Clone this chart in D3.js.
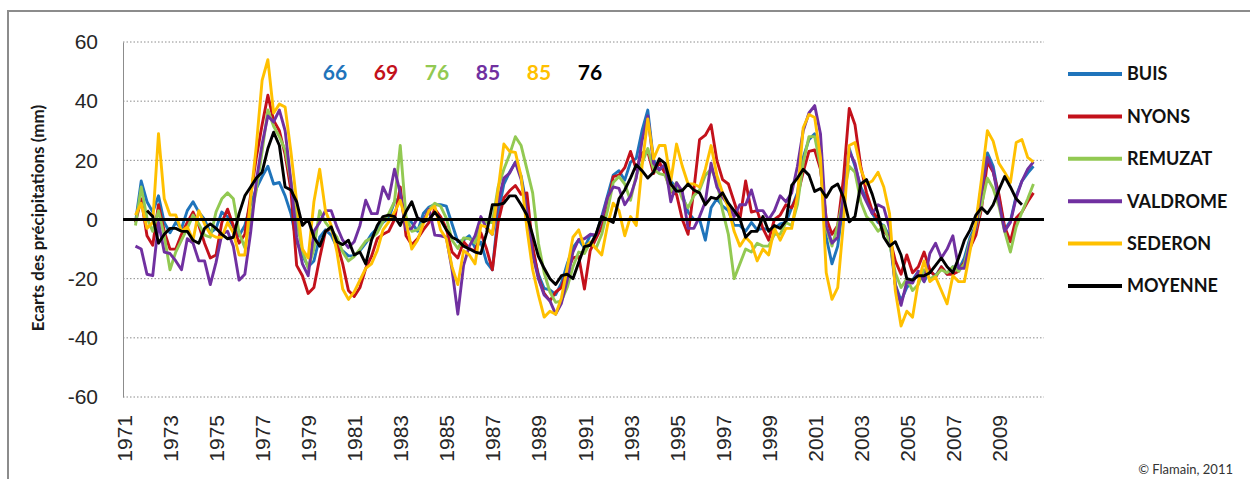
<!DOCTYPE html>
<html>
<head>
<meta charset="utf-8">
<script src="https://cdn.jsdelivr.net/npm/d3@7"></script>
<style>
  body { margin: 0; background: #fff; }
  svg { display: block; font-family: Lato, "Open Sans", sans-serif; }
  .grid line { stroke: #8c8c8c; stroke-width: 1; stroke-dasharray: 1.5,2; }
  .y-axis path { stroke: #8c8c8c; }
  .y-axis text, .x-axis text { font-size: 21px; fill: #262626; }
  .serie { fill: none; stroke-width: 2.9; stroke-linejoin: round; }
</style>
</head>
<body>
<div id="chart"></div>
<script>
// quarterly values, colored series from 1971.5 to 2010.5, average from 1972.0 to 2010.0
var startStations = 1971.5;
var startMoyenne = 1972.0;
var step = 0.25;

var stations = ["BUIS", "NYONS", "REMUZAT", "VALDROME", "SEDERON", "MOYENNE"];
var xTicks = d3.range(1971, 2010, 2);
var yTicks = [-60, -40, -20, 0, 20, 40, 60];
var topLabels = ["66", "69", "76", "85", "85", "76"];

var buis = [
  -1, 13, 6, 2.5, 8, -1, -4.5, -1, -3, 3, 6, 2.5, 0, -4.5, -3, 2.5, 1, -2.5, -5.5, -2, 5, 10.5, 14.5, 18, 12, 12.5, 8, 2, -7.5, -12, -16,
  -14, -6, -3.5, -5.3, -9.3, -10.6, -12.3, -12.3, -10.5, -8, -5, -3, -1, 0.5, 6, 7.5, 0, -1, -4, 2, 4.2, 5, 5, 4.5, -1.5, -7.5, -7, -5.5, -9.6, -7.6, -14.5, -17, 2,
  12, 16, 19.4, 14.7, 4, -10.5, -18.5, -23.3, -23.8, -25.4, -21.5, -15, -9.5, -6.9, -9.6, -5.3, -5.3, 1, 8, 15, 16.5, 13.3, 19.4, 20.7, 30, 37, 20, 17, 17.5, 13, 10.5, 8.5, 2.5,
  0, 0, -7, 4, 7, 4.5, 3, -2, -2, -4, -1, -3.5, -3, -3.5, -3, -1.5, -1, 4, 9, 21, 27, 29, 20, -6, -15, -9, 6, 24, 18, 11, 7, 2, -1, -2,
  -6, -22, -27.5, -23, -20.5, -17.5, -21, -17.5, -19, -16, -18.5, -16, -17, -13, -6, -2, 12, 22.5, 18, 7.5, -3.5, -0.5, 8, 13, 15.7, 18
];

var nyons = [
  -1, 7, -5.5, -8.7, 5, -4, -10, -10, -5, -1, 2.5, -2, -8, -13, -12, -1, 3.5, -2, -8, -5, 8, 21, 32, 42, 33.5, 30, 22, 10, -15.5, -19, -25,
  -23, -13, -4, -3, -8, -15, -24, -26, -23, -16.5, -12.5, -6.5, -5, -4, 0, 11, -5.5, -8.5, -6.5, -3.5, -1, 3.5, 1, -3, -11, -13, -7.5, -9.8, -10.7, -4.5, -10, -17, -1,
  7.3, 9.7, 11.5, 8.5, 9, -9, -19.5, -25, -27.5, -24.5, -23, -17.5, -13, -12.5, -23.5, -10.5, -6.5, -2.5, 4, 14.5, 15, 17.5, 23, 17, 22.5, 23, 15.5, 19.5, 15.5, 9.5, 8.5, 0, -5,
  10, 27, 28.5, 32, 20, 13.5, 12, 6, 0, 13, 2.5, 3, -3, -7, 0, 1.5, 5, 4, 8, 16, 23, 23.5, 17, 0.5, -5, -2, 14, 37.5, 32, 18, 9, 3, 0, -4,
  -6, -14, -18.5, -12, -18, -16, -11, -17, -19.5, -16, -18.5, -18.5, -17.5, -14.5, -9.5, -5.3, 4, 19.5, 16, 8.5, -2.5, -7.5, 0.5, 2.5, 6, 9
];

var remuzat = [
  -2, 11, 0.5, -4, 3, -5.5, -17, -11, -7, -3, 1.5, -1.5, -5.3, -6, 2.6, 7, 9, 7, -4.5, -9.5, 0.5, 10, 23, 37, 31.5, 28, 23.5, 13, -0.5, -10.5, -16.5,
  -10, 3, -1, -3.5, -6, -11, -14, -12.5, -10, -7.3, -6.3, -4.5, -0.8, 2, 6, 25, 1, -4, -3.5, -1, 3.5, 5.5, 4.5, 0.5, -7, -9.8, -6.2, -6.5, -8, 0, -1, -1, 11,
  17, 22, 28, 25, 17, 9, -8, -18, -24.5, -28, -27.5, -23, -16, -11, -11.5, -7.6, -9.8, -5, 3, 12.5, 14.5, 12, 6.5, 15, 19, 24, 17, 15.5, 15, 9.5, 12.5, 7, 4,
  8, 10, 15, 17, 13, 3, -5, -20, -15, -10, -11, -8, -9, -9, -5, -5, -1, -2, 5, 19, 28, 28, 18, -3, -9, -2, 8, 18, 16, 6, 1, -1, -4, -2,
  -8, -18, -23, -20, -24, -22, -17, -20, -19, -17, -18, -16, -17.5, -15, -7, -3, 5, 14, 10.5, 4.5, -4, -11, -2.5, 2.5, 7, 12
];

var valdrome = [
  -9, -10, -18.5, -19, -1, -11, -11.5, -14, -17, -6.5, -8, -14, -14, -22, -14.5, -5, -4, -9, -20.5, -18.5, -4.5, 13, 25.5, 35, 33, 37, 30, 13, -6, -15, -19,
  -4, -1, 3, 3, -2.5, -7, -9.5, -7.5, -2, 6.5, 2, 2, 11, 7, 17, 9, -3.5, -3, 0.5, -0.3, 3.5, -5.3, -5.5, -6, -17, -32, -15.5, -9, -5.5, 1, -3, -5, 6,
  14, 15.7, 19.3, 13.5, 3, -12, -20, -25.5, -27.5, -32, -28.3, -20.5, -11, -6.7, -6.5, -5, -5.3, 0, 7.5, 11, 10.5, 5, 8, 14, 26.6, 35, 19, 16.7, 18.7, 6, 12.4, 9.5, -3,
  -3, 1, 6, 19, 11, 7.5, 5, 1, 5, 5, 10, 3, 3, 0, 3, 8, 6, 9, 18, 30, 36, 38.5, 29, -2, -8, -6, 8, 23, 19, 10, 6, 2, 5, 4,
  -3, -22, -29, -21, -21.5, -17.5, -21, -11.5, -8, -13, -10, -5.5, -16.5, -16.5, -7.8, -3, 10, 21, 16.5, 6, -4, -1, 7.3, 13, 17, 19.5
];

var sederon = [
  1.5, 5.5, -3, -1, 29, 7, 1.5, 1.5, -4, -2.5, -7, 3, -1.5, -5, -6, -6, -1, -4.5, -12, -12, 7, 25, 47, 54, 36, 39, 38, 23, 6, -10, -13,
  6, 17, 3, -2, -11, -23.5, -27, -24.5, -20.5, -16.5, -15, -10.5, -3.5, -0.8, 2.5, 6.5, -0.8, -10, -7, -1.5, 3, 4.5, -3.5, -6.5, -16, -22, -10.5, -12, -15, -2, -2.5, -5, 10,
  25.5, 23, 22.7, 14.5, -3, -17, -25.5, -33, -31, -32, -26.5, -16.5, -6, -3.5, -9.5, -7.7, -9.8, -12, -2, 5.5, 3, -5.5, 1, -2, 18, 34, 20.5, 25, 25, 13, 25.5, 18, 12,
  12, 11, 17, 25, 15, 9, 4, -4, -9, -6, -8, -14, -10, -12, -3, -7, -3, -3, 8, 31, 35.5, 34.5, 21, -18, -27, -23, -1, 25, 26, 17, 12, 13, 16, 11,
  2, -24, -36, -31, -33, -21, -14, -21, -19.5, -24, -28.5, -19, -21, -21, -10.5, -1, 14, 30, 26.5, 19, 16, 12.5, 26, 27, 21, 19.5
];

var moyenne = [
  3, 1, -8, -5, -3, -3, -4, -4, -7, -8, -3, -1.5, -3, -5, -6.5, -6,
  2, 8, 11, 14, 16, 24, 29.5, 25, 11, 10, 6, -2, 0, -6, -9, -4,
  -2.5, -7.5, -8.5, -7, -12, -11, -15, -7, -2, 1, 1.5, 1, -2, 2.6, 6, 0.5,
  -0.8, 0, 2.5, 0, -3.5, -6, -7, -9, -10, -11, -11.5, -4.5, 5, 5, 5.5, 8,
  8, 5, 1.5, -5.3, -12.5, -16.5, -20, -22, -19, -18.5, -20, -14.5, -9.2, -8.7, -5, 1,
  0, -1, 7, 10, 14, 18.5, 16.5, 14, 16, 20.5, 19, 12, 9.5, 9.8, 12, 10,
  9, 5, 7.5, 7, 9, 5.5, 3, 0.3, -6, -4, -4, 1, -4, -2, -3, -0.5,
  11.5, 14, 17, 15, 9.5, 10.5, 7.5, 10.8, 12, 7.5, -0.8, 1, 12, 13.5, 8.5, 2,
  -6, -9, -7.5, -12, -20, -20.5, -19, -19, -18, -15.5, -13, -16, -18, -13, -7, -3.5,
  1.5, 4, 2, 5, 10, 14.5, 11, 7, 5
];

var colors = ["#1f74bb", "#c3111b", "#92c952", "#7030a0", "#ffc000", "#000000"];

var svgWidth = 1250;
var svgHeight = 479;

var margin = {
  top: 42,
  bottom: 82,
  right: 206,
  left: 123
};

var width = svgWidth - margin.left - margin.right;
var height = svgHeight - margin.top - margin.bottom;

var svg = d3
  .select("#chart")
  .append("svg")
  .attr("width", svgWidth)
  .attr("height", svgHeight);

// outer chart border
svg.append("rect")
  .attr("x", 8)
  .attr("y", 11)
  .attr("width", 1300)
  .attr("height", 520)
  .attr("fill", "none")
  .attr("stroke", "#8c8c8c")
  .attr("stroke-width", 2);

var chartGroup = svg.append("g")
  .attr("transform", `translate(${margin.left}, ${margin.top})`);

var xScale = d3.scaleLinear()
  .domain([1971 - 1 / 24, 2011 - 1 / 24])
  .range([0, width]);

var yScale = d3.scaleLinear()
  .domain([-60, 60])
  .range([height, 0]);

// dotted gridlines
chartGroup.append("g")
  .attr("class", "grid")
  .selectAll("line")
  .data(yTicks.filter(d => d !== 0))
  .enter()
  .append("line")
  .attr("x1", 0)
  .attr("x2", width)
  .attr("y1", d => yScale(d))
  .attr("y2", d => yScale(d));

var yAxis = chartGroup.append("g")
  .attr("class", "y-axis")
  .call(d3.axisLeft(yScale).tickValues(yTicks).tickSize(0).tickPadding(25).tickFormat(d => String(d)));

var xAxis = chartGroup.append("g")
  .attr("class", "x-axis")
  .attr("transform", `translate(0, ${height + 18})`)
  .call(d3.axisBottom(xScale).tickValues(xTicks).tickSize(0).tickFormat(d => String(d)));

xAxis.select(".domain").remove();
xAxis.selectAll("text")
  .attr("transform", "rotate(-90)")
  .attr("text-anchor", "end")
  .attr("x", 0)
  .attr("y", 0)
  .attr("dy", "0.36em");

function lineFor(start) {
  return d3.line()
    .x((d, i) => xScale(start + i * step))
    .y(d => yScale(d));
}

var seriesData = [buis, nyons, remuzat, valdrome, sederon];

chartGroup.selectAll(".serie")
  .data(seriesData)
  .enter()
  .append("path")
  .attr("class", "serie")
  .attr("stroke", (d, i) => colors[i])
  .attr("d", d => lineFor(startStations)(d));

// zero axis line
chartGroup.append("line")
  .attr("x1", 0)
  .attr("x2", width)
  .attr("y1", yScale(0))
  .attr("y2", yScale(0))
  .attr("stroke", "#000")
  .attr("stroke-width", 3);

chartGroup.append("path")
  .attr("class", "serie")
  .attr("stroke", colors[5])
  .attr("d", lineFor(startMoyenne)(moyenne));

// numbers above the curves
svg.append("g")
  .selectAll("text")
  .data(topLabels)
  .enter()
  .append("text")
  .attr("x", (d, i) => 335 + i * 51)
  .attr("y", 80)
  .attr("text-anchor", "middle")
  .attr("font-size", "21px")
  .attr("font-weight", "bold")
  .attr("fill", (d, i) => colors[i])
  .text(d => d);

// y axis title
svg.append("text")
  .attr("transform", "translate(38, 218) rotate(-90)")
  .attr("text-anchor", "middle")
  .attr("dy", "0.35em")
  .attr("font-size", "17px")
  .attr("font-weight", "bold")
  .attr("fill", "#1a1a1a")
  .text("Ecarts des précipitations (mm)");

// legend
var legend = svg.append("g")
  .selectAll("g")
  .data(stations)
  .enter()
  .append("g")
  .attr("transform", (d, i) => `translate(1068, ${74 + i * 42.4})`);

legend.append("line")
  .attr("x1", 0)
  .attr("x2", 54)
  .attr("stroke", (d, i) => colors[i])
  .attr("stroke-width", 4);

legend.append("text")
  .attr("x", 59)
  .attr("dy", "0.36em")
  .attr("font-size", "18px")
  .attr("font-weight", "bold")
  .attr("fill", "#111")
  .text(d => d);

svg.append("text")
  .attr("x", 1233)
  .attr("y", 474)
  .attr("text-anchor", "end")
  .attr("font-size", "13px")
  .attr("fill", "#333")
  .text("© Flamain, 2011");
</script>
</body>
</html>
